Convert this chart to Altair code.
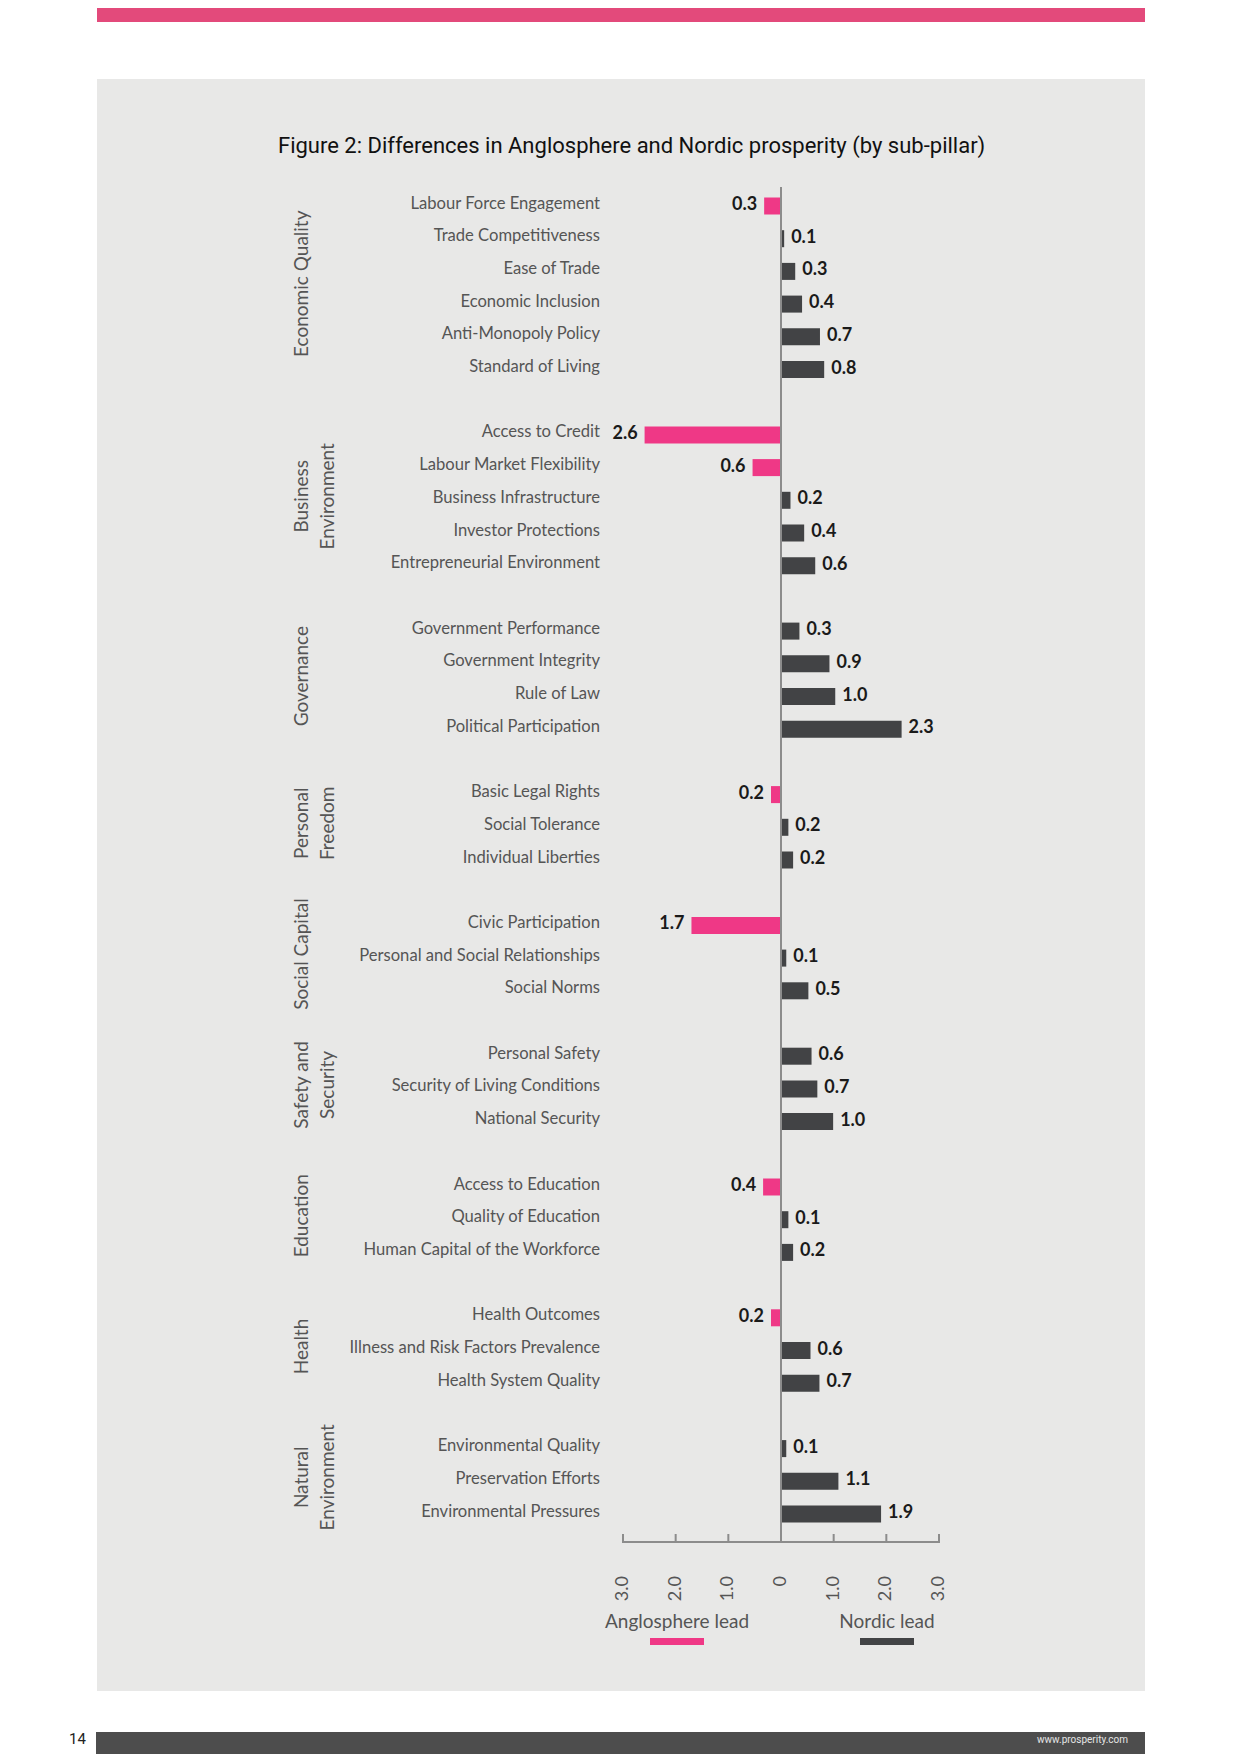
import altair as alt
import pandas as pd

# ---------------- data ----------------
pillars = [
    "Economic Quality", "Business\nEnvironment", "Governance", "Personal\nFreedom",
    "Social Capital", "Safety and\nSecurity", "Education", "Health", "Natural\nEnvironment",
]
pillar_sizes = [6, 5, 4, 3, 3, 3, 3, 3, 3]
sub_pillars = [
    "Labour Force Engagement", "Trade Competitiveness", "Ease of Trade",
    "Economic Inclusion", "Anti-Monopoly Policy", "Standard of Living",
    "Access to Credit", "Labour Market Flexibility", "Business Infrastructure",
    "Investor Protections", "Entrepreneurial Environment",
    "Government Performance", "Government Integrity", "Rule of Law", "Political Participation",
    "Basic Legal Rights", "Social Tolerance", "Individual Liberties",
    "Civic Participation", "Personal and Social Relationships", "Social Norms",
    "Personal Safety", "Security of Living Conditions", "National Security",
    "Access to Education", "Quality of Education", "Human Capital of the Workforce",
    "Health Outcomes", "Illness and Risk Factors Prevalence", "Health System Quality",
    "Environmental Quality", "Preservation Efforts", "Environmental Pressures",
]
# negative = Anglosphere lead, positive = Nordic lead (bar lengths)
differences = [
    -0.32, 0.06, 0.27, 0.40, 0.74, 0.82,
    -2.59, -0.54, 0.18, 0.44, 0.65,
    0.35, 0.92, 1.03, 2.29,
    -0.19, 0.14, 0.23,
    -1.70, 0.10, 0.52,
    0.58, 0.69, 0.99,
    -0.34, 0.14, 0.23,
    -0.19, 0.56, 0.73,
    0.10, 1.09, 1.90,
]
value_labels = [
    "0.3", "0.1", "0.3", "0.4", "0.7", "0.8",
    "2.6", "0.6", "0.2", "0.4", "0.6",
    "0.3", "0.9", "1.0", "2.3",
    "0.2", "0.2", "0.2",
    "1.7", "0.1", "0.5",
    "0.6", "0.7", "1.0",
    "0.4", "0.1", "0.2",
    "0.2", "0.6", "0.7",
    "0.1", "1.1", "1.9",
]
tick_values = [-3, -2, -1, 0, 1, 2, 3]
tick_labels = ["3.0", "2.0", "1.0", "0", "1.0", "2.0", "3.0"]
leads = ["Anglosphere lead", "Nordic lead"]
title_text = "Figure 2: Differences in Anglosphere and Nordic prosperity (by sub-pillar)"

# ---------------- build tables ----------------
rows, grp_rows = [], []
k = 0
slot = 0
for g, (p, n) in enumerate(zip(pillars, pillar_sizes)):
    start = slot
    for i in range(n):
        v = differences[k]
        rows.append({
            "name": sub_pillars[k], "pillar": p, "slot": slot,
            "y0": slot - 0.26, "y1": slot + 0.26,
            "value": v, "zero": 0.0, "label": value_labels[k],
            "lead": leads[0] if v < 0 else leads[1],
        })
        k += 1
        slot += 1
    grp_rows.append({"pillar": p, "slot": start + (n - 1) / 2})
    slot += 1  # spacer row between pillars
n_slots = slot - 2

df = pd.DataFrame(rows)
gdf = pd.DataFrame(grp_rows)
tdf = pd.DataFrame({"tick": tick_values, "tlabel": tick_labels})
one = pd.DataFrame({"t": [title_text]})

PINK = "#ef3886"
DARK = "#424345"
GREY_TXT = "#555555"
AXIS = "#8c8c8c"
LABEL_FONT = "Lato"
COND_FONT = "Roboto"

xs = alt.Scale(domain=[-3, 3], range=[615, 931], nice=False, zero=False)
ys = alt.Scale(domain=[0, n_slots], range=[198, 1506], nice=False, zero=False)
cs = alt.Scale(domain=leads, range=[PINK, DARK])

X = lambda f: alt.X(f, type="quantitative", scale=xs, axis=None)
Y = lambda f: alt.Y(f, type="quantitative", scale=ys, axis=None)

base_one = alt.Chart(one)

# page decorations
top_band = base_one.mark_rect(color="#e34a7b").encode(
    x=alt.value(89), x2=alt.value(1137), y=alt.value(0), y2=alt.value(14))
panel = base_one.mark_rect(color="#e8e8e7").encode(
    x=alt.value(89), x2=alt.value(1137), y=alt.value(71), y2=alt.value(1683))
bottom_band = base_one.mark_rect(color="#4d4d4d").encode(
    x=alt.value(88), x2=alt.value(1137), y=alt.value(1724), y2=alt.value(1746))
page_no = alt.Chart(pd.DataFrame({"t": ["14"]})).mark_text(
    font=COND_FONT, fontSize=15, color="#222222", align="left", baseline="middle"
).encode(text="t:N", x=alt.value(61), y=alt.value(1731))
url = alt.Chart(pd.DataFrame({"t": ["www.prosperity.com"]})).mark_text(
    font=COND_FONT, fontSize=10, color="#e6e6e6", align="right", baseline="middle"
).encode(text="t:N", x=alt.value(1120), y=alt.value(1732))

title = base_one.mark_text(
    font=COND_FONT, fontSize=22, color="#111111", align="left", baseline="middle"
).encode(text="t:N", x=alt.value(270), y=alt.value(138))

base = alt.Chart(df)

bars = base.mark_rect().encode(
    x=X("zero"), x2="value", y=Y("y0"), y2="y1",
    color=alt.Color("lead:N", scale=cs, legend=None),
)

cat_labels = base.mark_text(
    font=LABEL_FONT, fontSize=16.6, color=GREY_TXT, align="right", baseline="middle", dy=-2.5
).encode(text="name:N", x=alt.value(592), y=Y("slot"))

val_pos = base.transform_filter("datum.value >= 0").mark_text(
    font=LABEL_FONT, fontSize=18, fontWeight="bold", color="#1a1a1a",
    align="left", baseline="middle", dx=7, dy=-1
).encode(text="label:N", x=X("value"), y=Y("slot"))

val_neg = base.transform_filter("datum.value < 0").mark_text(
    font=LABEL_FONT, fontSize=18, fontWeight="bold", color="#1a1a1a",
    align="right", baseline="middle", dx=-7, dy=-1
).encode(text="label:N", x=X("value"), y=Y("slot"))

grp_labels = alt.Chart(gdf).mark_text(
    font=LABEL_FONT, fontSize=19, color=GREY_TXT, angle=270, align="center",
    baseline="top", lineBreak="\n", lineHeight=26, dx=4
).encode(text="pillar:N", x=alt.value(285), y=Y("slot"))

# axis built from scale
zero_line = alt.Chart(pd.DataFrame({"z": [0]})).mark_rule(color=AXIS, strokeWidth=2).encode(
    x=X("z"), y=alt.value(179), y2=alt.value(1535))
axis_line = alt.Chart(pd.DataFrame({"a": [-3], "b": [3]})).mark_rule(color=AXIS, strokeWidth=2).encode(
    x=X("a"), x2="b", y=alt.value(1534))
ticks = alt.Chart(tdf).mark_rule(color=AXIS, strokeWidth=2).encode(
    x=X("tick"), y=alt.value(1526), y2=alt.value(1535))
tick_text = alt.Chart(tdf).mark_text(
    font=LABEL_FONT, fontSize=18, color=GREY_TXT, angle=270, align="right", baseline="middle"
).encode(text="tlabel:N", x=X("tick"), y=alt.value(1568))

# legend
leg = pd.DataFrame({"lead": leads, "cx": [669, 879]})
leg_text = alt.Chart(leg).mark_text(
    font=LABEL_FONT, fontSize=19, color=GREY_TXT, align="center", baseline="middle"
).encode(text="lead:N", x=alt.X("cx:Q", scale=None), y=alt.value(1614))
leg_rect = alt.Chart(leg).transform_calculate(
    l="datum.cx - 27", r="datum.cx + 27"
).mark_rect().encode(
    x=alt.X("l:Q", scale=None), x2="r:Q", y=alt.value(1630), y2=alt.value(1637),
    color=alt.Color("lead:N", scale=cs, legend=None),
)

chart = alt.layer(
    top_band, panel, bottom_band, page_no, url, title,
    bars, zero_line, axis_line, ticks, tick_text,
    cat_labels, val_pos, val_neg, grp_labels, leg_text, leg_rect,
).properties(
    width=1224, height=1746, background="white", padding=0,
    autosize=alt.AutoSizeParams(type="none"),
).configure_view(stroke=None).resolve_scale(x="independent")

chart.save("out.html", embed_options={"renderer": "svg", "actions": False})
